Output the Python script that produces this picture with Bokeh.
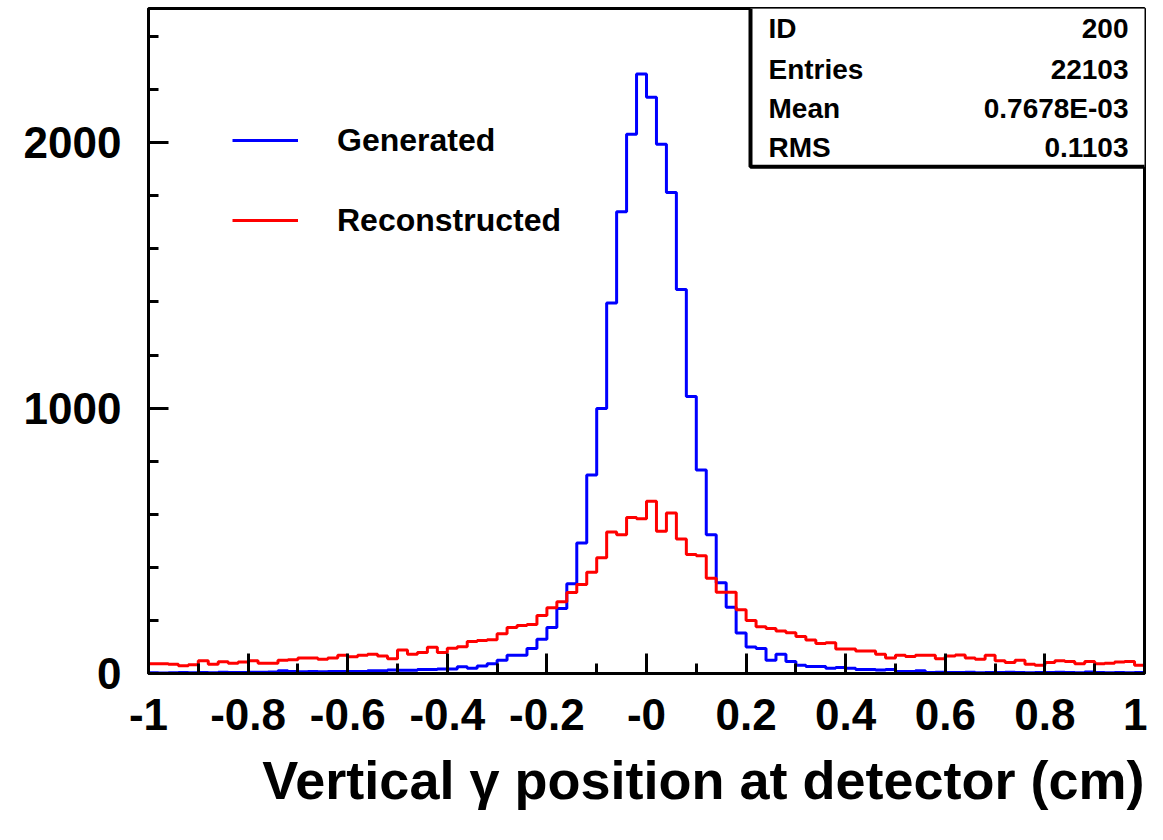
import numpy as np
from bokeh.plotting import figure
from bokeh.models import (FixedTicker, Label, BoxAnnotation, Legend, LegendItem,
                          Range1d, ColumnDataSource, Title)
from bokeh.embed import file_html
from bokeh.resources import INLINE

# ---------------- data ----------------
x_min, x_max, n_bins = -1.0, 1.0, 100

generated = [
    3, 2, 3, 4, 3, 4, 3, 5, 4, 4, 5, 5, 6,
    10, 8, 7, 8,
    7, 8, 8,
    8, 8,
    10, 10,
    13, 12, 12, 15, 15, 17, 17,
    25, 20, 28, 37, 50, 69, 69, 94, 129, 173,
    245, 338, 492, 748, 999, 1396, 1740, 2032, 2259, 2172,
    1994, 1813, 1447, 1044, 767, 523, 342, 250, 153, 100,
    94, 50, 73, 45, 31, 26, 26, 20, 23, 20,
    15, 15, 13, 15, 8, 8, 10, 4, 5, 4,
    4, 5, 3, 4, 4, 5, 4, 3, 4, 4,
    5, 4, 3, 6, 4, 3, 4, 3, 4,
]

reconstructed = [
    37, 37, 35, 29, 33, 48, 35, 44, 39, 43,
    48, 39, 39, 50, 52, 58, 58, 54, 58, 69,
    63, 69, 73, 66, 56, 89, 73, 79, 99, 79,
    95, 101, 121, 124, 127, 150, 173, 181, 185, 219,
    248, 270, 305, 335, 382, 436, 533, 523, 588, 583,
    649, 536, 605, 507, 448, 444, 359, 306, 306, 240,
    200, 176, 170, 160, 154, 139, 126, 113, 116, 92,
    92, 85, 85, 73, 58, 69, 64, 69, 69, 56,
    66, 70, 58, 54, 69, 48, 41, 50, 35, 31,
    41, 48, 45, 37, 45, 37, 39, 43, 45, 31,
]

series_names = ["Generated", "Reconstructed"]
series_colors = ["#0000ff", "#ff0000"]

x_ticks = [-1.0, -0.8, -0.6, -0.4, -0.2, 0.0, 0.2, 0.4, 0.6, 0.8, 1.0]
x_tick_labels = ["-1", "-0.8", "-0.6", "-0.4", "-0.2", "-0", "0.2", "0.4", "0.6", "0.8", "1"]
x_minor_ticks = [-0.9, -0.7, -0.5, -0.3, -0.1, 0.1, 0.3, 0.5, 0.7, 0.9]
y_ticks = [0, 1000, 2000]
y_tick_labels = ["0", "1000", "2000"]
y_minor_ticks = [200, 400, 600, 800, 1200, 1400, 1600, 1800, 2200, 2400]
y_max = 2506

stats_names = ["ID", "Entries", "Mean", "RMS"]
stats_values = ["200", "22103", "0.7678E-03", "0.1103"]

x_title = "Vertical \u03b3 position at detector (cm)"

# ---------------- layout ----------------
W, H = 1147, 824
BL, BR, BT = 148, 3, 8
FRAME_W = W - BL - BR        # 996
FRAME_BOTTOM = 676
BB = H - FRAME_BOTTOM        # 148
FRAME_H = FRAME_BOTTOM - BT  # 668

FONT = "Liberation Sans"


def dx(px):
    """canvas x pixel -> data x"""
    return x_min + (px - BL) * (x_max - x_min) / FRAME_W


def dy(py):
    """canvas y pixel -> data y"""
    return (FRAME_BOTTOM - py) * y_max / FRAME_H


p = figure(width=W, height=H, x_range=Range1d(x_min, x_max), y_range=Range1d(0, y_max),
           output_backend="svg", toolbar_location=None,
           min_border_left=BL, min_border_right=BR, min_border_top=BT, min_border_bottom=BB)
p.background_fill_color = "white"
p.border_fill_color = "white"
p.outline_line_color = "black"
p.outline_line_width = 3
p.xgrid.visible = False
p.ygrid.visible = False

# histogram outlines
edges = np.linspace(x_min, x_max, n_bins + 1)
renderers = []
for counts, name, color in zip([generated, reconstructed], series_names, series_colors):
    xs = np.repeat(edges, 2)
    ys = np.concatenate([[0], np.repeat(np.asarray(counts, dtype=float), 2), [0]])
    src = ColumnDataSource(dict(x=xs, y=ys))
    r = p.line("x", "y", source=src, line_color=color, line_width=3)
    renderers.append(r)

# axes
for ax in (p.xaxis[0], p.yaxis[0]):
    ax.axis_line_width = 3
    ax.axis_line_color = "black"
    ax.major_tick_in = 20
    ax.major_tick_out = 0
    ax.minor_tick_in = 10
    ax.minor_tick_out = 0
    ax.major_tick_line_width = 3
    ax.minor_tick_line_width = 3
    ax.major_tick_line_color = "black"
    ax.minor_tick_line_color = "black"
    ax.major_label_text_font = FONT
    ax.major_label_text_font_style = "bold"
    ax.major_label_text_font_size = "44px"
    ax.major_label_text_color = "black"

p.xaxis.ticker = FixedTicker(ticks=x_ticks, minor_ticks=x_minor_ticks)
p.xaxis.major_label_overrides = {t: l for t, l in zip(x_ticks, x_tick_labels)}
p.xaxis.major_label_standoff = 25
p.yaxis.ticker = FixedTicker(ticks=y_ticks, minor_ticks=y_minor_ticks)
p.yaxis.major_label_overrides = {t: l for t, l in zip(y_ticks, y_tick_labels)}
p.yaxis.major_label_standoff = 27
p.yaxis.major_label_orientation = "horizontal"

# x-axis title, right aligned at the frame edge
title = Title(text=x_title, align="right", text_font=FONT, text_font_style="bold",
              text_font_size="54px", text_color="black", standoff=30)
p.add_layout(title, "below")

# legend
legend = Legend(items=[LegendItem(label=n, renderers=[r]) for n, r in zip(series_names, renderers)],
                location=(84, 433), orientation="vertical",
                glyph_width=66, glyph_height=40, label_height=40, label_standoff=39,
                spacing=40, padding=0, margin=0,
                border_line_alpha=0, background_fill_alpha=0,
                label_text_font=FONT, label_text_font_style="bold",
                label_text_font_size="32px", label_text_color="black")
p.add_layout(legend)

# statistics box
p.add_layout(BoxAnnotation(left=dx(750), right=dx(1150), bottom=dy(167), top=dy(6),
                           fill_color="white", fill_alpha=1.0,
                           line_color="black", line_width=4, line_alpha=1.0))
row_y = [dy(28), dy(69), dy(108), dy(148)]
for name, val, yy in zip(stats_names, stats_values, row_y):
    p.add_layout(Label(x=dx(768), y=yy, text=name, text_align="left", text_baseline="middle",
                       text_font=FONT, text_font_style="bold", text_font_size="28px",
                       text_color="black"))
    p.add_layout(Label(x=dx(1128), y=yy, text=val, text_align="right", text_baseline="middle",
                       text_font=FONT, text_font_style="bold", text_font_size="28px",
                       text_color="black"))

open("out.html", "w").write(file_html(p, INLINE))
